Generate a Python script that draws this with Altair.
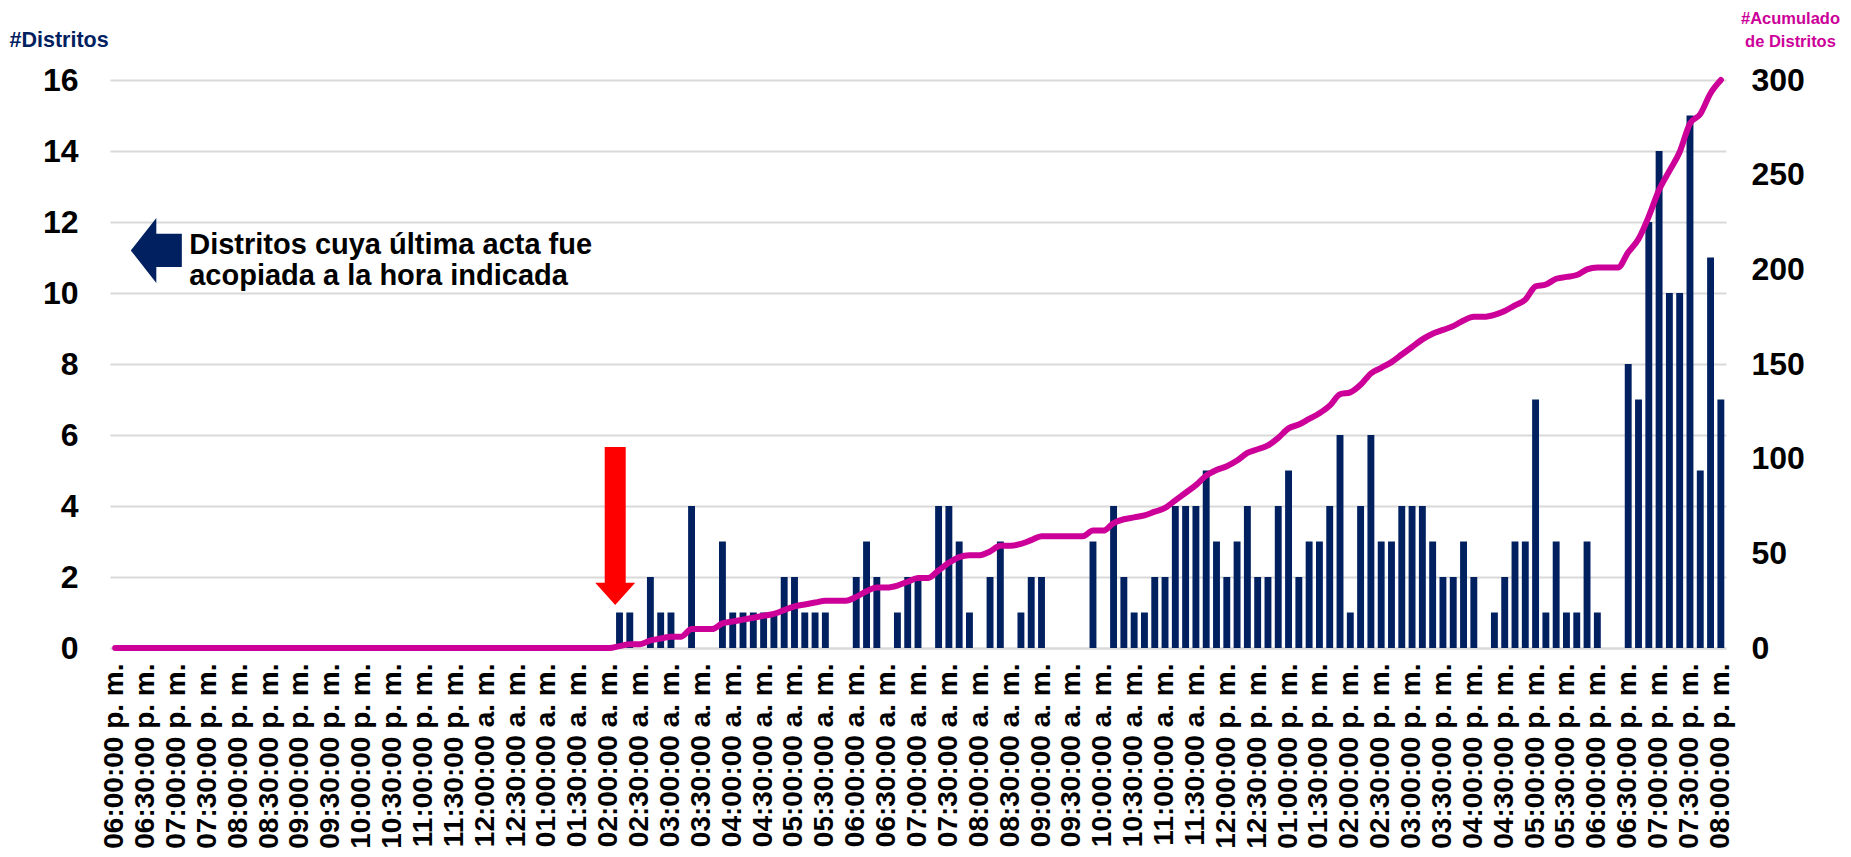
import altair as alt
import pandas as pd
from itertools import accumulate

# 10-minute slots from 06:00 p. m. to 08:00 p. m. of the next day
def fmt(total_min):
    h24 = (total_min // 60) % 24
    m = total_min % 60
    suf = "a. m." if h24 < 12 else "p. m."
    h12 = h24 % 12 or 12
    return f"{h12:02d}:{m:02d}:00 {suf}"

slot_labels = [fmt(18 * 60 + 10 * i) for i in range(157)]
# unique keys (the clock labels repeat after 24 h)
slots = [f"{i:03d}|{lab}" for i, lab in enumerate(slot_labels)]
tick_keys = slots[::3]

# districts whose last record was captured in each slot
distritos = [0] * 49 + [
    1, 1, 0, 2, 1, 1, 0, 4, 0, 0,
    3, 1, 1, 1, 1, 1, 2, 2, 1, 1,
    1, 0, 0, 2, 3, 2, 0, 1, 2, 2,
    0, 4, 4, 3, 1, 0, 2, 3, 0, 1,
    2, 2, 0, 0, 0, 0, 3, 0, 4, 2,
    1, 1, 2, 2, 4, 4, 4, 5, 3, 2,
    3, 4, 2, 2, 4, 5, 2, 3, 3, 4,
    6, 1, 4, 6, 3, 3, 4, 4, 4, 3,
    2, 2, 3, 2, 0, 1, 2, 3, 3, 7,
    1, 3, 1, 1, 3, 1, 0, 0, 8, 7,
    12, 14, 10, 10, 15, 5, 11, 7,
]
acumulado = list(accumulate(distritos))

left_ticks = [0, 2, 4, 6, 8, 10, 12, 14, 16]
right_ticks = [0, 50, 100, 150, 200, 250, 300]

note_lines = ["Distritos cuya última acta fue", "acopiada a la hora indicada"]

df = pd.DataFrame({"hora": slots, "distritos": distritos, "acumulado": acumulado})

FONT = "Liberation Sans"
NAVY = "#002060"
MAGENTA = "#CC0099"
GRID = "#D9D9D9"

x_scale = alt.Scale(domain=slots, paddingInner=0.33, paddingOuter=0.165)
x_axis = alt.Axis(
    values=tick_keys, labelExpr="split(datum.value, '|')[1]",
    labelAngle=-90, labelAlign="right", labelBaseline="middle",
    labelFont=FONT, labelFontSize=28,
    labelFontWeight="bold", labelColor="black", labelPadding=15,
    ticks=False, domain=True, domainColor=GRID, domainWidth=2,
    grid=False, title=None, labelOverlap=False, labelLimit=400,
)
x_enc = alt.X("hora:N", scale=x_scale, sort=None, axis=x_axis)
y_left = alt.Scale(domain=[0, 16], nice=False)

bars = alt.Chart(df).mark_bar(color=NAVY).encode(
    x=x_enc,
    y=alt.Y(
        "distritos:Q", scale=y_left,
        axis=alt.Axis(
            values=left_ticks, grid=True, gridColor=GRID, gridWidth=2,
            domain=False, ticks=False, labelFont=FONT, labelFontSize=32,
            labelFontWeight="bold", labelColor="black", labelPadding=32,
            title="#Distritos", titleAngle=0, titleAlign="left",
            titleBaseline="alphabetic", titleX=-101, titleY=-34,
            titleFont=FONT, titleFontSize=21.5, titleFontWeight="bold",
            titleColor=NAVY,
        ),
    ),
)

line = alt.Chart(df).mark_line(
    color=MAGENTA, strokeWidth=6, interpolate="monotone",
    strokeCap="round", strokeJoin="round",
).encode(
    x=x_enc,
    y=alt.Y(
        "acumulado:Q", scale=alt.Scale(domain=[0, 300], nice=False),
        axis=alt.Axis(
            orient="right", values=right_ticks, grid=False, domain=False,
            ticks=False, labelFont=FONT, labelFontSize=32,
            labelFontWeight="bold", labelColor="black", labelPadding=25,
            title=["#Acumulado", "de Distritos"], titleAngle=0,
            titleAlign="center", titleBaseline="alphabetic",
            titleX=64, titleY=-57, titleLineHeight=23,
            titleFont=FONT, titleFontSize=16.5, titleFontWeight="bold",
            titleColor=MAGENTA,
        ),
    ),
)

# navy arrow pointing to the left axis
left_arrow_path = "M -0.785 0 L 0 -1 L 0 -0.51 L 0.785 -0.51 L 0.785 0.51 L 0 0.51 L 0 1 Z"
navy_arrow = alt.Chart(pd.DataFrame({"hora": [slots[4]], "v": [11.2]})).mark_point(
    shape=left_arrow_path, filled=True, size=4225, color=NAVY, opacity=1, strokeWidth=0,
).encode(
    x=x_enc,
    y=alt.Y("v:Q", scale=y_left, axis=None),
)

note = alt.Chart(pd.DataFrame({"hora": [slots[7]], "v": [11.1], "t": [note_lines]})).mark_text(
    align="left", baseline="alphabetic", font=FONT, fontSize=29, fontWeight="bold",
    color="black", lineHeight=31, dx=2,
).encode(
    x=x_enc,
    y=alt.Y("v:Q", scale=y_left, axis=None),
    text="t",
)

# red arrow pointing to the first captured district
down_arrow_path = "M -0.133 -1 L 0.133 -1 L 0.133 0.72 L 0.253 0.72 L 0 1 L -0.253 0.72 L -0.133 0.72 Z"
red_arrow = alt.Chart(pd.DataFrame({"hora": [slots[48]], "v": [3.44]})).mark_point(
    shape=down_arrow_path, filled=True, size=24964, color="#FF0000", opacity=1,
    strokeWidth=0, xOffset=6,
).encode(
    x=x_enc,
    y=alt.Y("v:Q", scale=y_left, axis=None),
)

chart = alt.layer(bars, line, navy_arrow, note, red_arrow).resolve_scale(
    y="independent"
).properties(
    width=1616, height=568,
    padding={"left": 102, "top": 72, "right": 117, "bottom": 201},
    autosize=alt.AutoSizeParams(type="none"),
    background="white",
).configure_view(stroke=None)

chart.save("out.html", embed_options={"renderer": "svg", "actions": False})
